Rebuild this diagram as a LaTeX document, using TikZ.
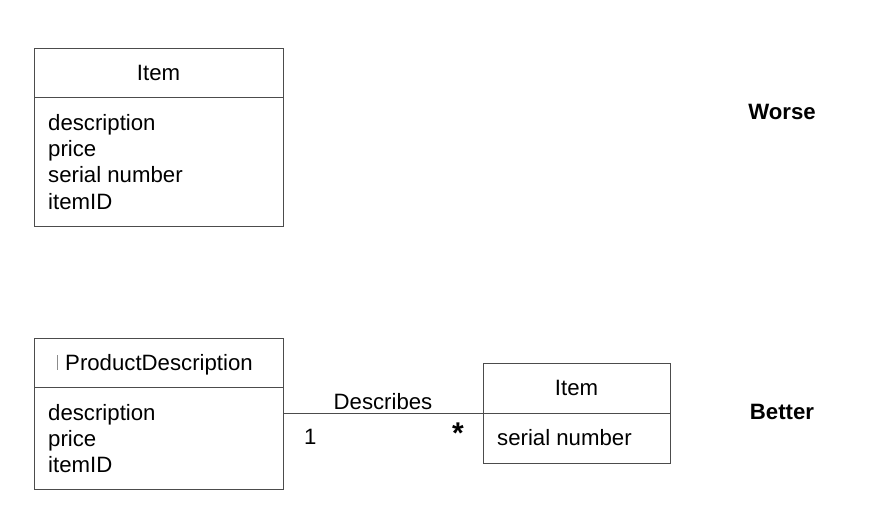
\documentclass[tikz,border=0pt]{standalone}
\usepackage{fontspec}
\setmainfont{Liberation Sans}
\begin{document}
\begin{tikzpicture}[x=1pt, y=-1pt,
    boxStyle/.style={rectangle, draw=black!70, line width=0.9pt, inner sep=0pt, anchor=north west},
    txtStyle/.style={inner sep=0pt, anchor=base west, font=\fontsize{22.2}{26}\selectfont},
    nameStyle/.style={txtStyle, anchor=base},
    tagStyle/.style={txtStyle, anchor=base, font=\fontsize{22.2}{26}\selectfont\bfseries},
    linkStyle/.style={draw=black!70, line width=0.9pt}]
    \useasboundingbox (0,0) rectangle (877,527);
    % worse: one class
    \node[boxStyle, minimum width=249pt, minimum height=49pt]  (worse_head) at (34,48) {};
    \node[boxStyle, minimum width=249pt, minimum height=129pt] (worse_body) at (34,97) {};
    \node[nameStyle] (worse_name) at (158.5,80.5) {Item};
    \node[txtStyle]  (worse_a1) at (48,130)   {description};
    \node[txtStyle]  (worse_a2) at (48,156.3) {price};
    \node[txtStyle]  (worse_a3) at (48,182.6) {serial number};
    \node[txtStyle]  (worse_a4) at (48,209)   {itemID};
    \node[tagStyle]  (worse_tag) at (782,119) {Worse};
    % better: two classes
    \node[boxStyle, minimum width=249pt, minimum height=49pt]  (pd_head) at (34,338) {};
    \node[boxStyle, minimum width=249pt, minimum height=102pt] (pd_body) at (34,387) {};
    \draw[black!45, line width=0.6pt] (57,355) -- (57,370);
    \node[txtStyle]  (pd_name) at (65,370.5) {ProductDescription};
    \node[txtStyle]  (pd_a1) at (48,420)   {description};
    \node[txtStyle]  (pd_a2) at (48,446.3) {price};
    \node[txtStyle]  (pd_a3) at (48,472.6) {itemID};
    \node[boxStyle, minimum width=187pt, minimum height=50pt] (item_head) at (483,363) {};
    \node[boxStyle, minimum width=187pt, minimum height=50pt] (item_body) at (483,413) {};
    \node[nameStyle] (item_name) at (576.5,395.5) {Item};
    \node[txtStyle]  (item_a1) at (497,445.5) {serial number};
    \draw[linkStyle] (pd_body.east |- item_body.north west) -- (item_body.north west);
    \node[nameStyle] (link_name) at (383,409) {Describes};
    \node[txtStyle]  (link_one)  at (304,444) {1};
    \node[tagStyle, font=\fontsize{30}{30}\selectfont\bfseries] (link_many) at (458,443) {*};
    \node[tagStyle]  (better_tag) at (782,419) {Better};
\end{tikzpicture}
\end{document}
